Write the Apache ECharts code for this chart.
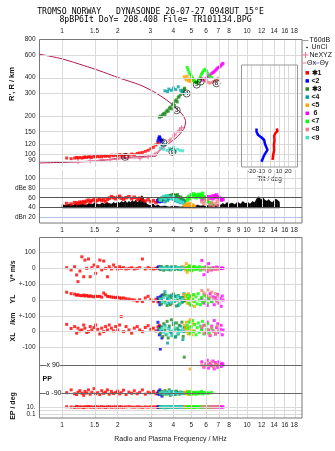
<!DOCTYPE html>
<html>
<head>
<meta charset="utf-8">
<script src="https://cdn.jsdelivr.net/npm/echarts@6.0.0/dist/echarts.min.js"></script>
<style>
html, body { margin: 0; padding: 0; background: #fff; }
#chart { width: 335px; height: 451px; }
</style>
</head>
<body>
<div id="chart"></div>
<script>
// tick labels
const freqTicksTop = [1, 1.5, 2, 3, 4, 5, 6, 7, 8, 10, 12, 14, 16, 18];
const freqTicksMid = [1, 1.5, 2, 3, 4, 5, 6, 7, 8, 9, 10, 12, 14, 16, 18];
const heightTicks = [80, 90, 100, 120, 150, 200, 300, 400, 600, 800];
const dbTicks = [20, 40, 60, 80, 100];
const bandTicks = [-100, 0, 100, 200, 300, 400, 500];
const tiltTicks = [-20, -10, 0, 10, 20];

// real height profile [MHz, km]
const profile = [[0.75, 610], [1.0, 560], [1.5, 466], [2.06, 395], [2.64, 350], [3.12, 311], [3.68, 267],
  [4.17, 229], [4.52, 202], [4.66, 181], [4.58, 161], [4.34, 145], [4.08, 133], [3.83, 124], [3.53, 113],
  [3.32, 105], [3.25, 99], [3.2, 97], [2.88, 97], [2.06, 94], [1.55, 89], [1.15, 87.4], [0.75, 86]];
const neXYZ = [[1.22, 88], [1.42, 89], [1.65, 91], [1.82, 91], [1.98, 92], [2.27, 94], [2.64, 94], [2.92, 96],
  [3.18, 101], [3.46, 113], [3.83, 130], [4.05, 142], [4.31, 155], [4.43, 162]];
// tilt [deg, km]
const tiltX = [[7.3, 160], [8.4, 153], [6.2, 148], [4.7, 140], [5.1, 130], [4.4, 119], [4.7, 109], [3.6, 99], [2.9, 91]];
const tiltY = [[-14.6, 160], [-14.6, 151], [-12.8, 142], [-9.1, 136], [-6.2, 130], [-5.5, 122], [-3.6, 113],
  [-2.6, 109], [-4.7, 103], [-6.2, 99], [-7.3, 95], [-9.1, 88]];
// noise level [MHz, dB] above a 39 dB floor
const noiseFloor = 39;
const noise = [[1.0, 46], [1.05, 44], [1.1, 47], [1.15, 45], [1.2, 48], [1.25, 46], [1.3, 47], [1.35, 45], [1.4, 48],
  [1.45, 46], [1.5, 49], [1.55, 47], [1.6, 46], [1.65, 49], [1.7, 47], [1.75, 50], [1.8, 48], [1.85, 47], [1.9, 50],
  [1.95, 48], [2.0, 51], [2.05, 49], [2.1, 52], [2.15, 50], [2.2, 53], [2.25, 49], [2.3, 52], [2.35, 50], [2.4, 54],
  [2.45, 51], [2.5, 55], [2.55, 50], [2.6, 53], [2.65, 58], [2.7, 64], [2.75, 60], [2.8, 52], [2.85, 48], [2.9, 46],
  [3.0, 44], [3.1, 47], [3.2, 43], [3.3, 45], [3.4, 42], [3.6, 43], [3.8, 41], [4.0, 43], [4.2, 42], [4.4, 41],
  [4.6, 43], [4.8, 42], [5.0, 44], [5.2, 42], [5.4, 45], [5.6, 43], [5.8, 44], [6.0, 42], [6.2, 45], [6.4, 43],
  [6.6, 46], [6.8, 44], [7.0, 47], [7.2, 45], [7.4, 48], [7.6, 46], [7.8, 50], [8.0, 47], [8.3, 49], [8.6, 46],
  [8.9, 51], [9.2, 47], [9.5, 52], [9.8, 48], [10.1, 50], [10.4, 47], [10.7, 52], [11.0, 50], [11.3, 58], [11.6, 62],
  [11.9, 56], [12.2, 60], [12.5, 55], [12.8, 53], [13.1, 56], [13.4, 52], [13.7, 50], [14.0, 54], [14.3, 57],
  [14.6, 55], [14.9, 52], [15.0, 40]];

// echoes: [MHz, R' km, dB, V* m/s, YL km, XL km, PP deg, EP deg]
const echo1 = [
  [1.06, 94, 48, 4, 49, 46, -88, 12], [1.12, 93, 47, -10, 40, 20, -70, 10], [1.17, 94, 50, 10, 37, 32, -95, 8],
  [1.20, 95, 49, -42, 30, -10, -100, 15], [1.22, 94, 48, -84, 33, 22, -85, 9], [1.25, 95, 51, -17, 28, 5, -75, 11],
  [1.28, 94, 50, 73, 27, 11, -92, 10], [1.31, 95, 52, -53, 31, 42, -105, 7], [1.33, 96, 49, 52, 25, 22, -80, 12],
  [1.36, 95, 53, 0, 29, -5, -90, 10], [1.39, 96, 55, 59, 23, 0, -70, 14], [1.42, 96, 51, -53, 26, 32, -98, 9],
  [1.45, 95, 54, 4, 23, 11, -85, 11], [1.49, 97, 56, 21, 20, 26, -62, 8], [1.52, 96, 53, -32, 24, 42, -95, 13],
  [1.56, 97, 55, 10, 22, 15, -88, 10], [1.60, 96, 57, 52, 23, -15, -100, 9], [1.64, 97, 54, -10, 18, 22, -75, 12],
  [1.68, 98, 56, 46, 44, 0, -92, 10], [1.72, 97, 52, 0, 33, 32, -85, 8], [1.76, 98, 57, -53, 23, 11, -70, 11],
  [1.80, 97, 59, 10, 21, 42, -98, 12], [1.85, 99, 62, -4, 19, 22, -80, 9], [1.90, 98, 60, 21, 17, 5, -94, 10],
  [1.95, 99, 58, 4, 15, 32, -86, 11], [2.00, 98, 61, -4, 17, 11, -78, 8], [2.05, 100, 63, 10, 13, 42, -96, 12],
  [2.09, 99, 59, 0, 11, 95, -88, 10], [2.15, 98, 57, 4, 13, 0, -72, 9], [2.22, 100, 60, -4, 8, 32, -100, 11],
  [2.30, 99, 62, 0, 6, 11, -84, 13], [2.38, 101, 58, 4, 2, -10, -92, 10], [2.46, 100, 61, -4, 0, 22, -76, 9],
  [2.55, 102, 56, 0, -8, 32, -95, 12], [2.63, 103, 59, 4, 2, 11, -86, 10], [2.72, 104, 55, 59, -10, 0, -70, 8],
  [2.82, 106, 53, -4, 13, 26, -98, 11], [2.92, 108, 56, 4, 23, 38, -85, 9], [3.02, 111, 52, 0, 2, 15, -90, 12],
  [3.12, 114, 54, -4, -8, 22, -80, 10], [3.22, 119, 50, 0, 5, 5, -95, 11], [3.30, 124, 53, 2, -12, 30, -88, 9],
  [3.36, 130, 55, 3, 0, 40, -92, 10]];
const echo2 = [
  [3.30, 128, 54, 5, 15, 59, -95, 10], [3.33, 134, 56, 10, 5, 10, -80, 9], [3.36, 138, 52, 0, -10, -20, -100, 11],
  [3.40, 132, 55, 8, 20, -110, -90, 10], [3.44, 126, 53, 2, 0, 5, -85, 12], [3.47, 130, 57, -5, 30, -40, -110, 10],
  [3.38, 136, 54, 3, -30, 30, -70, 9]];
const echo3 = [
  [3.36, 196, 56, 5, 10, 20, -88, 10], [3.40, 200, 58, -8, -5, -10, -95, 8], [3.45, 198, 55, 10, -25, 30, -80, 12],
  [3.50, 205, 60, 0, 20, -30, -100, 9], [3.55, 210, 57, -12, 35, 50, -90, 11], [3.60, 206, 62, 6, -15, 10, -75, 6],
  [3.65, 215, 59, -4, 30, -20, -98, 14], [3.70, 222, 63, 12, -35, 65, -85, 10], [3.75, 218, 60, -6, 5, -40, -92, 7],
  [3.80, 230, 64, 2, 25, 35, -70, 12], [3.85, 235, 61, -10, -30, 0, -105, 9], [3.90, 228, 65, 8, 15, 75, -88, 11],
  [3.95, 245, 62, -3, -20, -25, -95, 8], [4.00, 250, 66, 4, 38, 45, -80, 13], [4.05, 242, 63, -8, -10, 15, -90, 10],
  [4.10, 262, 60, 10, 22, -35, -100, 9], [4.15, 268, 64, -2, -38, 55, -78, 12], [4.20, 258, 66, 6, 0, 20, -92, 10],
  [4.25, 280, 62, -6, 28, -15, -86, 8], [4.30, 285, 58, 3, -25, 40, -98, 11], [4.38, 295, 61, -4, 12, 5, -84, 10],
  [4.45, 305, 57, 8, -15, 60, -94, 12], [4.52, 318, 55, -2, 18, -30, -88, 9], [4.58, 325, 52, 0, -5, 25, 140, 10],
  [4.60, 330, 53, 0, -5, 25, -92, 10]];
const echo4 = [
  [3.60, 315, 52, 4, 52, 40, -90, 10], [3.72, 311, 55, -6, 10, -72, -85, 9], [3.78, 325, 58, 2, -20, 20, -95, 11],
  [3.90, 318, 60, 8, 30, -10, -80, 10], [4.00, 331, 57, -3, -5, 55, -100, 12], [4.12, 322, 54, 5, 25, -30, -88, 9],
  [4.25, 339, 52, 0, -35, 10, -92, 10], [4.38, 318, 50, -8, 15, 35, -86, 11], [4.50, 311, 53, 3, -10, -50, -94, 10],
  [4.56, 302, 49, 0, 40, 0, -90, 9]];
const echo5 = [
  [4.58, 406, 45, 10, 35, 40, -90, 10], [4.65, 395, 42, -10, 20, 20, -85, 9], [4.70, 383, 47, 30, 0, 60, -95, 11],
  [4.75, 410, 44, -25, -20, 0, -80, 10], [4.82, 378, 46, 5, 40, -15, -100, 12], [4.88, 390, 43, -5, 10, 30, -88, 10],
  [4.92, 372, 48, 15, -30, 75, 64, 9], [4.98, 385, 41, 0, 25, 10, -92, 11], [5.05, 395, 45, -15, -10, -20, -86, 10],
  [5.12, 380, 44, 8, 30, 50, -94, 10], [5.20, 375, 42, 2, -40, 5, -90, 9]];
const echo6 = [
  [5.70, 381, 56, 50, 10, 20, 110, 10], [5.85, 385, 58, -40, -20, 40, 75, 11], [6.00, 392, 60, 10, 30, -10, 95, 10],
  [6.10, 400, 57, -20, -35, 60, 120, 9], [6.20, 410, 62, 30, 5, 10, 70, 10], [6.32, 420, 59, 0, 40, -25, 100, 12],
  [6.45, 430, 63, -10, -10, 35, 85, 10], [6.55, 438, 58, 5, 20, 5, 115, 9], [6.65, 444, 64, 0, -30, 70, 65, 11],
  [6.75, 455, 61, -5, 15, -15, 105, 10], [6.85, 465, 66, 8, -5, 25, 90, 10], [6.95, 475, 62, 0, 35, 50, 75, 12],
  [7.05, 480, 60, 3, -20, -5, 110, 10], [7.15, 487, 57, -2, 10, 15, 95, 9], [7.25, 500, 55, 0, -40, 40, 80, 11],
  [7.35, 510, 58, 2, 25, -20, 100, 10], [7.42, 516, 56, 0, 0, 10, 90, 10]];
const echo7 = [
  [4.75, 480, 55, 5, 30, 40, -90, 10], [4.80, 460, 60, -10, 10, 20, -85, 11], [4.86, 440, 63, 15, -20, 60, -95, 9],
  [4.92, 425, 58, 0, 25, -10, -80, 10], [5.00, 410, 66, -15, -35, 30, -100, 12], [5.08, 395, 62, 8, 5, 70, -88, 10],
  [5.15, 380, 68, -5, 35, 0, -92, 9], [5.22, 372, 64, 12, -10, 45, -86, 11], [5.30, 365, 60, -8, 20, -20, -98, 10],
  [5.38, 362, 66, 3, -25, 25, -84, 10], [5.45, 375, 63, -3, 40, 55, -94, 12], [5.52, 390, 67, 10, 0, -5, -88, 9],
  [5.60, 405, 61, -12, -30, 35, -90, 10], [5.68, 425, 65, 4, 15, 10, -80, 11], [5.75, 440, 69, -6, -15, 65, -96, 10],
  [5.85, 455, 62, 6, 30, -15, -86, 9], [5.95, 465, 58, 0, -5, 40, -92, 10], [6.05, 450, 55, -4, 20, 15, -88, 11],
  [6.12, 430, 52, 2, -20, 50, -94, 10], [6.25, 410, 50, 0, 10, -10, -90, 10], [6.45, 400, 48, -2, -10, 20, -86, 9]];
const echo8 = [
  [5.70, 395, 52, -5, 60, 30, 90, 10], [5.85, 385, 48, 0, 45, -10, 80, 11], [6.00, 375, 55, -10, 30, 40, 100, 10],
  [6.15, 368, 58, -3, 63, 10, 95, 12], [6.30, 362, 45, -12, 20, -20, 85, 10], [6.45, 366, 50, 2, 50, 25, 110, 9],
  [6.60, 372, 42, -6, 10, 0, 75, 11], [6.75, 380, 47, 0, 40, -15, 95, 10], [6.90, 388, 53, -8, -10, 35, 90, 10],
  [7.00, 395, 44, -2, 25, 5, 85, 12]];
const echo9 = [
  [3.40, 112, 55, 2, 5, 10, -90, 10], [3.48, 118, 60, -5, -10, 20, -85, 11], [3.55, 110, 63, 6, 15, -5, -95, 9],
  [3.62, 120, 58, 0, -20, 30, -88, 10], [3.70, 108, 64, -3, 25, -15, -92, 12], [3.80, 112, 61, 4, 0, 15, -80, 10],
  [3.90, 109, 59, -6, -15, -25, -98, 9], [4.00, 114, 62, 3, 10, 5, -86, 11], [4.10, 106, 57, 0, -5, 25, -90, 10],
  [4.22, 110, 55, 5, 20, -10, -94, 10], [4.35, 108, 52, -2, -25, 0, -88, 9], [4.48, 107, 50, 2, 5, 15, -92, 10]];
// fitted layer markers [MHz, km, label]
const markers = [[2.19, 96, '1'], [3.53, 124, '2'], [4.17, 222, '3'], [4.72, 300, '4'], [5.35, 352, '5'],
  [5.62, 372, '7'], [6.84, 360, '8'], [3.95, 105, '9']];

const echoSets = [
  { name: '✱1', color: '#ff0000', rows: echo1 },
  { name: '<2', color: '#0000ff', rows: echo2 },
  { name: '✱3', color: '#228b22', rows: echo3 },
  { name: '<4', color: '#00a0a0', rows: echo4 },
  { name: '<5', color: '#ffa500', rows: echo5 },
  { name: ' 6', color: '#ff00ff', rows: echo6 },
  { name: '<7', color: '#00ff00', rows: echo7 },
  { name: '<8', color: '#f08080', rows: echo8 },
  { name: '<9', color: '#40e0d0', rows: echo9 }
];

const lg = Math.log10;
const xMin = -0.1243, xMax = 1.2973;
const font = 'Liberation Sans';
const lab = { fontSize: 6.5, color: '#222', fontFamily: font };

function freqAxis(gi, ticks, pos) {
  return {
    type: 'value', gridIndex: gi, min: xMin, max: xMax, position: pos || 'bottom',
    axisLine: { show: false }, axisTick: { show: false }, splitLine: { show: false },
    axisLabel: ticks ? Object.assign({ customValues: ticks.map(lg), margin: 4,
      formatter: v => String(Math.round(Math.pow(10, v) * 10) / 10) }, lab) : { show: false }
  };
}
function valAxis(gi, min, max, ticks, fmt) {
  return {
    type: 'value', gridIndex: gi, min: min, max: max,
    axisLine: { show: false }, axisTick: { show: false }, splitLine: { show: false },
    axisLabel: ticks ? Object.assign({ customValues: ticks, margin: 3.5, formatter: fmt }, lab) : { show: false }
  };
}
// grid lines drawn as mark lines on an empty series
function gridLines(gi, xs, ys, z) {
  const item = (key, d) => {
    const o = {}; o[key] = typeof d === 'object' ? d.v : d;
    if (typeof d === 'object') o.lineStyle = { color: d.c };
    return o;
  };
  return {
    type: 'line', xAxisIndex: gi, yAxisIndex: gi, data: [], z: z || 1, silent: true,
    markLine: {
      symbol: 'none', silent: true, animation: false, label: { show: false },
      lineStyle: { color: '#dadada', width: 1, type: 'solid' },
      data: xs.map(d => item('xAxis', d)).concat(ys.map(d => item('yAxis', d)))
    }
  };
}

const fx = freqTicksMid.map(lg);
const series = [
  gridLines(0, fx, heightTicks.map(lg)),
  gridLines(1, tiltTicks, heightTicks.filter(h => h <= 400).map(lg), 4),
  gridLines(2, fx, [{ v: 20, c: '#b4c0ec' }, { v: 40, c: '#555' }, { v: 60, c: '#555' }, 80, 100]),
  gridLines(3, fx, bandTicks),
  gridLines(4, fx, [{ v: 90, c: '#666' }, { v: -90, c: '#666' }]),
  gridLines(5, fx, [1, 0, -1]),
  {
    type: 'line', xAxisIndex: 0, yAxisIndex: 0, data: profile.map(d => [lg(d[0]), lg(d[1])]),
    symbol: 'none', smooth: 0.2, lineStyle: { color: '#b3164a', width: 1 }, z: 2, silent: true
  },
  {
    type: 'line', xAxisIndex: 0, yAxisIndex: 0, data: neXYZ.map(d => [lg(d[0]), lg(d[1])]),
    symbol: 'path://M4,0h2v4h4v2h-4v4h-2v-4h-4v-2h4z', symbolSize: 5,
    itemStyle: { color: '#ee6f93' }, lineStyle: { color: '#ee6f93', width: 1 }, z: 2, silent: true
  },
  {
    // noise level: filled from the floor up to each value
    type: 'custom', xAxisIndex: 2, yAxisIndex: 2, z: 2, silent: true,
    data: noise.map(d => [lg(d[0]), d[1]]),
    renderItem: (params, api) => {
      const i = params.dataIndex;
      if (i >= noise.length - 1) return;
      const n = noise[i + 1];
      const x0 = api.value(0), x1 = lg(n[0]);
      return {
        type: 'polygon',
        shape: { points: [api.coord([x0, noiseFloor]), api.coord([x0, api.value(1)]),
          api.coord([x1, n[1]]), api.coord([x1, noiseFloor])] },
        style: { fill: '#000', stroke: '#000', lineWidth: 0.5 }
      };
    }
  }
];

echoSets.forEach(s => {
  const pt = (gi, data, size) => ({
    type: 'scatter', xAxisIndex: gi, yAxisIndex: gi, data: data, symbol: 'rect', symbolSize: size || 3,
    itemStyle: { color: s.color }, z: 3, silent: true
  });
  const r = s.rows;
  series.push(pt(0, r.map(d => [lg(d[0]), lg(d[1])])));
  series.push(pt(2, r.map(d => [lg(d[0]), d[2]]), 3.5));
  series.push(pt(3, r.flatMap(d => [[lg(d[0]), 400 + d[3]], [lg(d[0]), 200 + d[4]], [lg(d[0]), d[5]]])));
  series.push(pt(4, r.map(d => [lg(d[0]), d[6]])));
  series.push(pt(5, r.map(d => [lg(d[0]), lg(d[7])])));
});

series.push({
  type: 'scatter', xAxisIndex: 0, yAxisIndex: 0, z: 4, silent: true,
  data: markers.map(m => ({ value: [lg(m[0]), lg(m[1])], name: m[2] })),
  symbol: 'circle', symbolSize: 7,
  itemStyle: { color: 'rgba(255,255,255,0)', borderColor: '#000', borderWidth: 0.8 },
  label: { show: true, position: 'inside', formatter: '{b}', fontSize: 6, color: '#000', fontFamily: font, fontWeight: 'bold' }
});
series.push({
  type: 'line', xAxisIndex: 1, yAxisIndex: 1, data: tiltX.map(d => [d[0], lg(d[1])]),
  symbol: 'none', lineStyle: { color: '#ff0000', width: 2.5 }, z: 5, silent: true
});
series.push({
  type: 'line', xAxisIndex: 1, yAxisIndex: 1, data: tiltY.map(d => [d[0], lg(d[1])]),
  symbol: 'none', lineStyle: { color: '#0000ff', width: 2.5 }, z: 5, silent: true
});

const bandNames = { '-100': '-100', '0': '0', '100': '+-100', '200': '0', '300': '+-100', '400': '0', '500': '100' };

const txt = (x, y, text, opt) => Object.assign({
  type: 'text', x: x, y: y, z: 12,
  style: Object.assign({ text: text, font: '7px ' + font, fill: '#111', textAlign: 'left', textVerticalAlign: 'middle' }, (opt && opt.style) || {})
}, opt && opt.rotation ? { rotation: opt.rotation } : {});

const graphics = [
  txt(150.5, 12, 'TROMSO NORWAY   DYNASONDE 26-07-27 0948UT 15°E', { style: { font: '8.2px DejaVu Sans Mono', textAlign: 'center', fill: '#000' } }),
  txt(155.5, 19.7, '8pBP6It DoY= 208.408 File= TR101134.BPG', { style: { font: '8.2px DejaVu Sans Mono', textAlign: 'center', fill: '#000' } }),
  { type: 'rect', z: 3, shape: { x: 241.5, y: 65, width: 56, height: 102 }, style: { fill: '#fff', stroke: null } },
  { type: 'rect', z: 6, shape: { x: 241.5, y: 65, width: 56, height: 102 }, style: { fill: 'none', stroke: '#999', lineWidth: 1 } },
  { type: 'rect', z: 10, shape: { x: 39.5, y: 39.5, width: 262.5, height: 183.5 }, style: { fill: 'none', stroke: '#777', lineWidth: 1 } },
  { type: 'rect', z: 10, shape: { x: 39.5, y: 237.5, width: 262.5, height: 180.5 }, style: { fill: 'none', stroke: '#777', lineWidth: 1 } },
  txt(12, 84, "R', R / km", { rotation: Math.PI / 2, style: { font: 'bold 7.5px ' + font, textAlign: 'center' } }),
  txt(13, 271, 'V* m/s', { rotation: Math.PI / 2, style: { font: 'bold 7px ' + font, textAlign: 'center' } }),
  txt(13, 299, 'YL', { rotation: Math.PI / 2, style: { font: 'bold 7px ' + font, textAlign: 'center' } }),
  txt(13, 327, 'XL    /km', { rotation: Math.PI / 2, style: { font: 'bold 7px ' + font, textAlign: 'center' } }),
  txt(13, 406, 'EP / deg', { rotation: Math.PI / 2, style: { font: 'bold 7px ' + font, textAlign: 'center' } }),
  txt(42.5, 379, 'PP', { style: { font: 'bold 7px ' + font } }),
  txt(46.5, 365, 'x 90', { style: { font: '7px ' + font, backgroundColor: '#fff' } }),
  txt(45.5, 393, 'o -90', { style: { font: '7px ' + font, backgroundColor: '#fff' } }),
  // legend
  { type: 'line', z: 12, shape: { x1: 302.5, y1: 40.5, x2: 308.5, y2: 40.5 }, style: { stroke: '#999', lineWidth: 1 } },
  txt(309.5, 40.5, 'T60dB'),
  { type: 'circle', z: 12, shape: { cx: 307, cy: 47.5, r: 0.8 }, style: { fill: '#000' } },
  txt(311.5, 47, 'UnCl'),
  { type: 'line', z: 12, shape: { x1: 302.5, y1: 55, x2: 308.5, y2: 55 }, style: { stroke: '#ee6f93', lineWidth: 1 } },
  { type: 'line', z: 12, shape: { x1: 305.5, y1: 52, x2: 305.5, y2: 58 }, style: { stroke: '#ee6f93', lineWidth: 1 } },
  txt(309.5, 55, 'NeXYZ'),
  { type: 'line', z: 12, shape: { x1: 302.5, y1: 63, x2: 306.5, y2: 63 }, style: { stroke: '#f08080', lineWidth: 1 } },
  txt(307, 63, 'Θx'),
  { type: 'line', z: 12, shape: { x1: 315, y1: 63, x2: 319, y2: 63 }, style: { stroke: '#8080ff', lineWidth: 1 } },
  txt(319.5, 63, 'Θy')
];
echoSets.forEach((s, i) => {
  const y = 72.8 + i * 8.1;
  graphics.push({ type: 'rect', z: 12, shape: { x: 305.5, y: y - 1.75, width: 3.5, height: 3.5 }, style: { fill: s.color } });
  graphics.push(txt(311.5, y, s.name, { style: { font: 'bold 7px ' + font } }));
});

const chart = echarts.init(document.getElementById('chart'), null, { renderer: 'canvas' });
chart.setOption({
  animation: false,
  backgroundColor: '#fff',
  grid: [
    { left: 39, top: 39, width: 263, height: 128 },
    { left: 241.5, top: 65, width: 56, height: 102 },
    { left: 39, top: 170, width: 263, height: 53 },
    { left: 39, top: 237, width: 263, height: 113 },
    { left: 39, top: 350, width: 263, height: 50 },
    { left: 39, top: 400, width: 263, height: 18 }
  ],
  xAxis: [
    freqAxis(0, freqTicksTop, 'top'),
    {
      type: 'value', gridIndex: 1, min: -31, max: 30.2,
      axisLine: { show: false }, axisTick: { show: false }, splitLine: { show: false },
      axisLabel: { customValues: tiltTicks, margin: 1, fontSize: 6, color: '#222', fontFamily: font },
      name: 'Tilt / deg', nameLocation: 'middle', nameGap: 8.5,
      nameTextStyle: { fontSize: 6.5, color: '#222', fontFamily: font }
    },
    freqAxis(2, freqTicksMid),
    freqAxis(3),
    freqAxis(4),
    Object.assign(freqAxis(5, freqTicksTop), {
      name: 'Radio and Plasma Frequency / MHz', nameLocation: 'middle', nameGap: 18,
      nameTextStyle: { fontSize: 7, color: '#222', fontFamily: font }
    })
  ],
  yAxis: [
    valAxis(0, lg(80), lg(800), heightTicks.map(lg), v => String(Math.round(Math.pow(10, v)))),
    valAxis(1, lg(80), 2.7),
    valAxis(2, 8, 117, dbTicks, v => ({ 20: 'dBn 20', 80: 'dBe 80' })[v] || String(v)),
    valAxis(3, -116, 598, bandTicks, v => bandNames[String(v)]),
    valAxis(4, -135, 186),
    valAxis(5, -2.14, 3, [1, -1], v => (v > 0 ? '10.' : '0.1'))
  ],
  graphic: { elements: graphics },
  series: series
});
</script>
</body>
</html>
